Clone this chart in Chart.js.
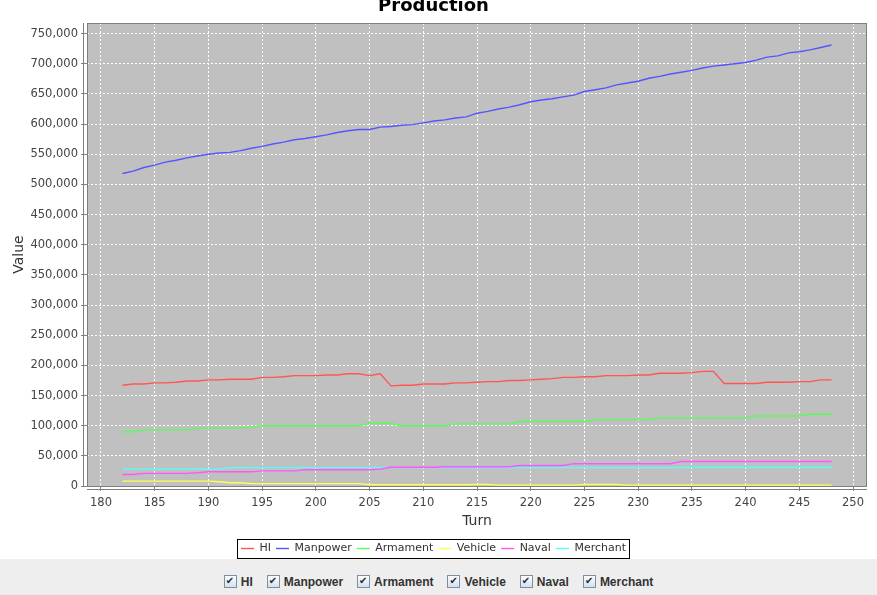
<!DOCTYPE html>
<html>
<head>
<meta charset="utf-8">
<title>Production</title>
<script src="https://cdn.jsdelivr.net/npm/chart.js@4.4.1/dist/chart.umd.min.js"></script>
<style>
  html, body { margin: 0; padding: 0; background: #fff; overflow: hidden; }
  body { width: 877px; height: 595px; position: relative; }
  #wrap { position: absolute; left: 0; top: -6px; width: 877px; height: 570px; }
  #panel {
    position: absolute; left: 0; top: 559px; width: 877px; height: 36px; box-sizing: border-box;
    padding-top: 9px; background: #eeeeee;
    display: flex; justify-content: center; align-items: center; gap: 14px;
  }
  .cb { display: inline-flex; align-items: center; font: bold 12px "Liberation Sans", Arial, sans-serif; color: #333; cursor: pointer; }
  .cb input { display: none; }
  .cb .box {
    width: 11px; height: 11px; margin-right: 4px; border: 1px solid #7b8ea3;
    background: linear-gradient(#fbfdff, #d5e1ec); position: relative; box-sizing: content-box;
  }
  .cb input:checked + .box::after {
    content: "\2714"; position: absolute; left: 1px; top: -1px;
    font: 10px "DejaVu Sans", sans-serif; color: #1e2b38;
  }
</style>
</head>
<body>
<div id="wrap"><canvas id="prodChart"></canvas></div>
<div id="panel"></div>
<script>
  // turns 182..248
  const turns = [];
  for (let t = 182; t <= 248; t++) turns.push(t);

  const seriesNames = ['HI', 'Manpower', 'Armament', 'Vehicle', 'Naval', 'Merchant'];
  const seriesColors = ['#ff5555', '#5555ff', '#55ff55', '#ffff55', '#ff55ff', '#55ffff'];

  const hi = [
    167000, 169000, 169000, 171000, 171000, 172000, 174000, 174000, 176000, 176000,
    177000, 177000, 177000, 180000, 180000, 181000, 183000, 183000, 183000, 184000,
    184000, 186000, 186000, 183000, 186000, 166000, 167000, 167000, 169000, 169000,
    169000, 171000, 171000, 172000, 173000, 173000, 175000, 175000, 176000, 177000,
    178000, 180000, 180000, 181000, 181000, 183000, 183000, 183000, 184000, 184000,
    187000, 187000, 187000, 188000, 190000, 190000, 170000, 170000, 170000, 170000,
    172000, 172000, 172000, 173000, 173000, 176000, 176000
  ];
  const manpower = [
    518000, 522000, 528000, 532000, 537000, 540000, 544000, 547000, 550000, 552000,
    553000, 556000, 560000, 563000, 567000, 570000, 574000, 576000, 579000, 582000,
    586000, 589000, 591000, 591000, 595000, 596000, 598000, 599000, 602000, 605000,
    607000, 610000, 612000, 618000, 621000, 625000, 628000, 632000, 637000, 640000,
    642000, 645000, 648000, 654000, 657000, 660000, 665000, 668000, 671000, 676000,
    679000, 683000, 686000, 689000, 693000, 696000, 698000, 700000, 702000, 706000,
    711000, 713000, 718000, 720000, 723000, 727000, 731000
  ];
  const armament = [
    90000, 90000, 93000, 93000, 93000, 93000, 93000, 96000, 96000, 96000,
    96000, 96000, 98000, 100000, 100000, 100000, 100000, 100000, 100000, 100000,
    100000, 100000, 100000, 104000, 104000, 104000, 100000, 100000, 100000, 100000,
    100000, 103000, 103000, 103000, 103000, 103000, 103000, 107000, 107000, 107000,
    107000, 107000, 107000, 107000, 110000, 110000, 110000, 110000, 110000, 110000,
    113000, 113000, 113000, 113000, 113000, 113000, 113000, 113000, 113000, 116000,
    116000, 116000, 116000, 116000, 119000, 119000, 119000
  ];
  const vehicle = [
    8000, 8000, 8000, 8000, 8000, 8000, 8000, 8000, 8000, 7000,
    5500, 5500, 4000, 4000, 4000, 4000, 4000, 4000, 4000, 4000,
    4000, 4000, 4000, 2000, 2000, 2000, 2000, 2000, 2000, 2000,
    2000, 2000, 2000, 2500, 2500, 1500, 1500, 1500, 1500, 1500,
    1500, 1500, 1500, 2500, 2500, 2500, 2500, 1500, 1500, 1500,
    1500, 1500, 1500, 1500, 1500, 1500, 1500, 1500, 1500, 1500,
    1500, 1500, 1500, 1500, 1500, 1500, 1500
  ];
  const naval = [
    19000, 19000, 21000, 21000, 21000, 21000, 21000, 22000, 23500, 23500,
    23500, 23500, 23500, 25000, 25000, 25000, 25000, 27000, 27000, 27000,
    27000, 27000, 27000, 27000, 28000, 31000, 31000, 31000, 31000, 31000,
    32000, 32000, 32000, 32000, 32000, 32000, 32000, 34000, 34000, 34000,
    34000, 34000, 37000, 37000, 37000, 37000, 37000, 37000, 37000, 37000,
    37000, 37000, 40500, 40500, 40500, 40500, 40500, 40500, 40500, 40500,
    40500, 40500, 40500, 40500, 40500, 40500, 40500
  ];
  const merchant = [
    28000, 28000, 28000, 28000, 28000, 28000, 28000, 28000, 28000, 28000,
    30500, 30500, 30500, 30500, 30500, 30500, 30500, 30500, 30500, 30500,
    30500, 30500, 30500, 30500, 30500, 30500, 30500, 30500, 30500, 30500,
    30500, 30500, 30500, 30500, 30500, 30500, 30500, 30500, 30500, 30500,
    30500, 30500, 30500, 30500, 30500, 30500, 30500, 30500, 30500, 30500,
    30500, 30500, 30500, 31000, 31000, 31000, 31000, 31000, 31000, 31000,
    31000, 31000, 31000, 31000, 31000, 31000, 31000
  ];

  const xTicks = [180, 185, 190, 195, 200, 205, 210, 215, 220, 225, 230, 235, 240, 245, 250];
  const yTicks = [0, 50000, 100000, 150000, 200000, 250000, 300000, 350000,
                  400000, 450000, 500000, 550000, 600000, 650000, 700000, 750000];

  const allValues = [hi, manpower, armament, vehicle, naval, merchant];

  // axis ranges like JFreeChart auto range (5% margins, sticky zero)
  const span = turns[turns.length - 1] - turns[0];
  const xMin = turns[0] - span * 0.05;
  const xMax = turns[turns.length - 1] + span * 0.05;
  const yMax = Math.max(...allValues.flat()) * 1.05;

  const datasets = allValues.map((vals, i) => ({
    label: seriesNames[i],
    data: turns.map((t, j) => ({ x: t, y: vals[j] })),
    borderColor: seriesColors[i],
    backgroundColor: seriesColors[i],
    borderWidth: 1.4,
    pointRadius: 0,
    tension: 0
  }));

  const plotFrame = {
    id: 'plotFrame',
    beforeDraw(chart) {
      const { ctx, chartArea: a } = chart;
      ctx.save();
      ctx.fillStyle = '#c0c0c0';
      ctx.fillRect(a.left, a.top, a.right - a.left, a.bottom - a.top);
      ctx.restore();
    },
    afterDatasetsDraw(chart) {
      const { ctx, chartArea: a } = chart;
      ctx.save();
      ctx.strokeStyle = '#808080';
      ctx.lineWidth = 1;
      ctx.strokeRect(Math.round(a.left) + 0.5, Math.round(a.top) + 0.5,
        Math.round(a.right - a.left) - 1, Math.round(a.bottom - a.top));
      // offset axis lines
      ctx.beginPath();
      ctx.moveTo(Math.round(a.left) - 3.5, a.top);
      ctx.lineTo(Math.round(a.left) - 3.5, a.bottom + 1);
      ctx.moveTo(a.left, Math.round(a.bottom) + 3.5);
      ctx.lineTo(a.right, Math.round(a.bottom) + 3.5);
      ctx.stroke();
      ctx.restore();
    },
    afterDraw(chart) {
      const boxes = chart.legend && chart.legend.legendHitBoxes;
      if (!boxes || !boxes.length) return;
      let l = Infinity, r = -Infinity, t = Infinity, b = -Infinity;
      boxes.forEach(h => {
        l = Math.min(l, h.left); r = Math.max(r, h.left + h.width);
        t = Math.min(t, h.top); b = Math.max(b, h.top + h.height);
      });
      const ctx = chart.ctx;
      ctx.save();
      ctx.strokeStyle = '#000';
      ctx.lineWidth = 1;
      ctx.strokeRect(Math.round(l - 4) + 0.5, Math.round(t - 4) + 0.5,
        Math.round(r - l + 7), Math.round(b - t + 8));
      ctx.restore();
    }
  };

  const chart = new Chart(document.getElementById('prodChart'), {
    type: 'line',
    data: { datasets },
    options: {
      responsive: true,
      maintainAspectRatio: false,
      animation: false,
      layout: { padding: { left: 0, right: 10, top: 0, bottom: 0 } },
      plugins: {
        title: {
          display: true,
          text: 'Production',
          color: '#000',
          font: { family: 'DejaVu Sans', size: 18, weight: 'bold' },
          padding: { top: 1.5, bottom: 5.9 }
        },
        legend: {
          position: 'bottom',
          labels: {
            usePointStyle: true,
            pointStyle: 'line',
            pointStyleWidth: 13,
            padding: 5,
            color: '#333',
            font: { family: 'DejaVu Sans', size: 11 }
          }
        },
        tooltip: { enabled: false }
      },
      scales: {
        x: {
          type: 'linear',
          min: xMin,
          max: xMax,
          afterBuildTicks: axis => { axis.ticks = xTicks.map(v => ({ value: v })); },
          afterFit: axis => { axis.height = 52; },
          ticks: {
            color: '#444',
            padding: 5,
            font: { family: 'DejaVu Sans', size: 11.5 },
            callback: v => String(v)
          },
          grid: {
            color: '#ffffff',
            tickColor: '#808080',
            tickLength: 5,
            tickBorderDash: []
          },
          border: { display: false, dash: [2, 2] },
          title: {
            display: true,
            text: 'Turn',
            color: '#333',
            font: { family: 'DejaVu Sans', size: 14 },
            padding: { top: 0, bottom: 8.6 }
          }
        },
        y: {
          min: 0,
          max: yMax,
          afterBuildTicks: axis => { axis.ticks = yTicks.map(v => ({ value: v })); },
          afterFit: axis => { axis.width = 87; },
          ticks: {
            color: '#444',
            padding: 3,
            font: { family: 'DejaVu Sans', size: 11.5 },
            callback: v => v.toLocaleString('en-US')
          },
          grid: {
            color: '#ffffff',
            tickColor: '#808080',
            tickLength: 6,
            tickBorderDash: []
          },
          border: { display: false, dash: [2, 2] },
          title: {
            display: true,
            text: 'Value',
            color: '#333',
            font: { family: 'DejaVu Sans', size: 14 },
            padding: { top: 10.6, bottom: 0 }
          }
        }
      }
    },
    plugins: [plotFrame]
  });

  // series toggles under the chart
  const panel = document.getElementById('panel');
  seriesNames.forEach((name, i) => {
    const label = document.createElement('label');
    label.className = 'cb';
    const input = document.createElement('input');
    input.type = 'checkbox';
    input.checked = true;
    input.addEventListener('change', () => {
      chart.setDatasetVisibility(i, input.checked);
      chart.update();
    });
    const box = document.createElement('span');
    box.className = 'box';
    label.appendChild(input);
    label.appendChild(box);
    label.appendChild(document.createTextNode(name));
    panel.appendChild(label);
  });
</script>
</body>
</html>
